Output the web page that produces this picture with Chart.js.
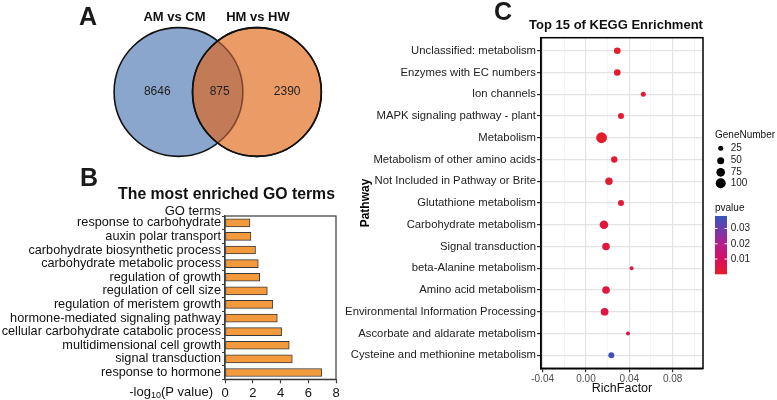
<!DOCTYPE html>
<html>
<head>
<meta charset="utf-8">
<script src="https://cdn.jsdelivr.net/npm/chart.js@4.4.1/dist/chart.umd.min.js"></script>
<style>
	body { margin: 0; background: #fff; }
	#page { position: relative; width: 777px; height: 400px; overflow: hidden; }
	canvas { position: absolute; }
</style>
</head>
<body>
<div id="page">
	<canvas id="venn" width="360" height="160" style="left:0;top:0"></canvas>
	<canvas id="go" width="360" height="240" style="left:0;top:160px"></canvas>
	<canvas id="kegg" width="437" height="400" style="left:340px;top:0"></canvas>
</div>
<script>
// A : Venn
const vennSets = ['AM vs CM', 'HM vs HW'];
const vennCounts = [8646, 875, 2390];      // only left, both, only right
const vennCenters = [-0.61, 0.61];        // circle centres (radius = 1 unit)
const vennLabelPos = [-0.94, 0.03, 1.08]; // where the counts sit

// B : GO terms
const goTerms = [
	'response to carbohydrate',
	'auxin polar transport',
	'carbohydrate biosynthetic process',
	'carbohydrate metabolic process',
	'regulation of growth',
	'regulation of cell size',
	'regulation of meristem growth',
	'hormone-mediated signaling pathway',
	'cellular carbohydrate catabolic process',
	'multidimensional cell growth',
	'signal transduction',
	'response to hormone'
];
const goLogP = [1.8, 1.87, 2.2, 2.4, 2.5, 3.05, 3.45, 3.77, 4.08, 4.63, 4.85, 6.98];
const goTicks = [0, 2, 4, 6, 8];

// C : KEGG
const pathways = [
	'Unclassified: metabolism',
	'Enzymes with EC numbers',
	'Ion channels',
	'MAPK signaling pathway - plant',
	'Metabolism',
	'Metabolism of other amino acids',
	'Not Included in Pathway or Brite',
	'Glutathione metabolism',
	'Carbohydrate metabolism',
	'Signal transduction',
	'beta-Alanine metabolism',
	'Amino acid metabolism',
	'Environmental Information Processing',
	'Ascorbate and aldarate metabolism',
	'Cysteine and methionine metabolism'
];
const richFactor = [0.0289, 0.0289, 0.0529, 0.0323, 0.0144, 0.0261, 0.0212, 0.0323, 0.0166, 0.0185, 0.0421, 0.0185, 0.0172, 0.0388, 0.0234];
const geneNumber = [44, 44, 25, 36, 117, 41, 55, 36, 74, 58, 16, 58, 60, 16, 36];
const pValue = [0.0008, 0.001, 0.0015, 0.0015, 0.0005, 0.002, 0.002, 0.002, 0.004, 0.0045, 0.005, 0.0045, 0.005, 0.006, 0.037];
const richTicks = [-0.04, -0.02, 0, 0.02, 0.04, 0.06, 0.08, 0.10];
const richTickLabels = ['-0.04', '', '0.00', '', '0.04', '', '0.08', ''];
const sizeBreaks = [25, 50, 75, 100];
const pBreaks = [0.01, 0.02, 0.03];
const pMax = 0.0382;

const FONT = 'Liberation Sans, Arial, Helvetica, sans-serif';
Chart.defaults.font.family = FONT;

function dotRadius(n)
{
	return 0.5 * Math.sqrt(n);
}

// red -> magenta -> blue like the pvalue colour bar
const pStops = [
	[0.00, [228, 30, 40]],
	[0.26, [215, 15, 95]],
	[0.52, [180, 30, 140]],
	[0.78, [110, 60, 175]],
	[1.00, [55, 85, 185]]
];
function pColor(p)
{
	const t = Math.max(0, Math.min(1, p / pMax));
	for (let i = 1; i < pStops.length; i++)
	{
		if (t <= pStops[i][0])
		{
			const [t0, c0] = pStops[i - 1];
			const [t1, c1] = pStops[i];
			const k = (t - t0) / (t1 - t0);
			const c = c0.map((v, j) => Math.round(v + (c1[j] - v) * k));
			return `rgb(${c[0]},${c[1]},${c[2]})`;
		}
	}
	return 'rgb(55,85,185)';
}

function text(ctx, str, x, y, font, align, color)
{
	ctx.font = font;
	ctx.textAlign = align || 'left';
	ctx.textBaseline = 'middle';
	ctx.fillStyle = color || '#000';
	ctx.fillText(str, x, y);
}

/* ---------- A ---------- */
const vennPlugin = {
	id: 'vennOverlap',
	afterDatasetsDraw(chart)
	{
		const ctx = chart.ctx;
		const [a, b] = chart.getDatasetMeta(0).data;
		const ra = a.options.radius, rb = b.options.radius;
		// darker lens where the two sets overlap
		ctx.save();
		ctx.beginPath(); ctx.arc(a.x, a.y, ra, 0, 2 * Math.PI); ctx.clip();
		ctx.beginPath(); ctx.arc(b.x, b.y, rb, 0, 2 * Math.PI);
		ctx.fillStyle = 'rgba(120,60,60,0.35)';
		ctx.fill();
		ctx.restore();

		ctx.save();
		ctx.beginPath(); ctx.arc(b.x, b.y, rb, 0, 2 * Math.PI); ctx.clip();
		ctx.beginPath(); ctx.arc(a.x, a.y, ra, 0, 2 * Math.PI);
		ctx.strokeStyle = 'rgba(70,25,15,0.6)';
		ctx.lineWidth = 1.6;
		ctx.stroke();
		ctx.restore();

		ctx.beginPath(); ctx.arc(b.x, b.y, rb, 0, 2 * Math.PI);
		ctx.strokeStyle = '#111';
		ctx.lineWidth = 1.6;
		ctx.stroke();

		const xs = chart.scales.x, ys = chart.scales.y;
		vennCounts.forEach((n, i) =>
			text(ctx, String(n), xs.getPixelForValue(vennLabelPos[i]), ys.getPixelForValue(0), '12px ' + FONT, 'center', '#222'));
		[a, b].forEach((p, i) =>
			text(ctx, vennSets[i], p.x + (i ? 1 : -4), p.y - p.options.radius - 10, 'bold 13px ' + FONT, 'center', '#111'));
		text(ctx, 'A', 88, 18, 'bold 25px ' + FONT, 'center', '#1a1a1a');
	}
};

new Chart(document.getElementById('venn'), {
	type: 'bubble',
	data: {
		datasets: [{
			data: vennCenters.map(x => ({ x: x, y: 0 })),
			backgroundColor: ['#8aa6cc', '#eb9c66'],
			borderColor: '#111',
			borderWidth: 1.6,
			radius: 64.4,
			clip: false
		}]
	},
	options: {
		responsive: false,
		animation: false,
		events: [],
		layout: { padding: 0, autoPadding: false },
		scales: {
			x: { display: false, min: -3.386, max: 2.213 },
			y: { display: false, min: -1.0575, max: 1.431 }
		},
		plugins: { legend: { display: false }, tooltip: { enabled: false } }
	},
	plugins: [vennPlugin]
});

/* ---------- B ---------- */
const goPlugin = {
	id: 'goExtras',
	afterDraw(chart)
	{
		const ctx = chart.ctx, area = chart.chartArea;
		ctx.save();
		ctx.strokeStyle = '#3a3a3a';
		ctx.lineWidth = 1.2;
		ctx.strokeRect(area.left, area.top, area.right - area.left, area.bottom - area.top);

		text(ctx, 'B', 89, 19, 'bold 25px ' + FONT, 'center', '#1a1a1a');
		text(ctx, 'The most enriched GO terms', 226.5, 35, 'bold 15.8px ' + FONT, 'center', '#111');
		text(ctx, 'GO terms', 221, 51.7, '13px ' + FONT, 'right', '#111');

		// -log10(P value) with subscript
		ctx.font = '13px ' + FONT;
		const w1 = ctx.measureText('-log').width, w3 = ctx.measureText('(P value)').width;
		ctx.font = '9px ' + FONT;
		const w2 = ctx.measureText('10').width;
		let x = 213 - (w1 + w2 + w3);
		text(ctx, '-log', x, 232, '13px ' + FONT, 'left', '#111');
		text(ctx, '10', x + w1, 236, '9px ' + FONT, 'left', '#111');
		text(ctx, '(P value)', x + w1 + w2, 232, '13px ' + FONT, 'left', '#111');
		ctx.restore();
	}
};

new Chart(document.getElementById('go'), {
	type: 'bar',
	data: {
		labels: goTerms,
		datasets: [{
			data: goLogP,
			backgroundColor: '#f29a3c',
			borderColor: '#3a3a3a',
			borderWidth: 1,
			borderSkipped: false,
			barThickness: 8
		}]
	},
	options: {
		indexAxis: 'y',
		responsive: false,
		animation: false,
		events: [],
		layout: { padding: { top: 56, right: 24, bottom: 0, left: 0 } },
		scales: {
			x: {
				min: 0, max: 8,
				afterBuildTicks: s => { s.ticks = goTicks.map(v => ({ value: v })); },
				afterFit: s => { s.height = 20.7; },
				grid: { drawOnChartArea: false, tickLength: 4, tickColor: '#3a3a3a', tickWidth: 1.2 },
				border: { color: '#3a3a3a', width: 1.2 },
				ticks: { font: { size: 13 }, color: '#111', padding: 2, maxRotation: 0 }
			},
			y: {
				afterFit: s => { s.width = 225; },
				grid: { drawOnChartArea: false, tickLength: 3, tickColor: '#3a3a3a', tickWidth: 1.2 },
				border: { color: '#3a3a3a', width: 1.2 },
				ticks: { font: { size: 12.7 }, color: '#111', padding: 1, autoSkip: false }
			}
		},
		plugins: { legend: { display: false }, tooltip: { enabled: false } }
	},
	plugins: [goPlugin]
});

/* ---------- C ---------- */
const keggPlugin = {
	id: 'keggExtras',
	afterDraw(chart)
	{
		const ctx = chart.ctx, area = chart.chartArea;
		ctx.save();
		ctx.strokeStyle = '#000';
		ctx.lineWidth = 1.5;
		ctx.strokeRect(area.left, area.top, area.right - area.left, area.bottom - area.top);

		text(ctx, 'C', 163, 13, 'bold 25px ' + FONT, 'center', '#1a1a1a');
		text(ctx, 'Top 15 of KEGG Enrichment', 276, 25, 'bold 13px ' + FONT, 'center', '#111');

		// size legend
		const lx = area.right + 12;
		text(ctx, 'GeneNumber', lx, 135, '10px ' + FONT, 'left', '#111');
		const rowY = [148.3, 160.7, 172.3, 183.3];
		sizeBreaks.forEach((n, i) =>
		{
			ctx.beginPath();
			ctx.arc(lx + 5.7, rowY[i], dotRadius(n), 0, 2 * Math.PI);
			ctx.fillStyle = '#000';
			ctx.fill();
			text(ctx, String(n), lx + 15.7, rowY[i], '10px ' + FONT, 'left', '#222');
		});

		// colour bar
		text(ctx, 'pvalue', lx, 208.3, '10px ' + FONT, 'left', '#111');
		const top = 216, bottom = 274.3, w = 12;
		const grad = ctx.createLinearGradient(0, bottom, 0, top);
		for (let k = 0; k <= 20; k++)
			grad.addColorStop(k / 20, pColor(pMax * k / 20));
		ctx.fillStyle = grad;
		ctx.fillRect(lx, top, w, bottom - top);
		pBreaks.forEach(p =>
		{
			const y = bottom - p / pMax * (bottom - top);
			ctx.strokeStyle = '#fff';
			ctx.lineWidth = 1;
			ctx.beginPath();
			ctx.moveTo(lx, y); ctx.lineTo(lx + 2.5, y);
			ctx.moveTo(lx + w - 2.5, y); ctx.lineTo(lx + w, y);
			ctx.stroke();
			text(ctx, p.toFixed(2), lx + 15.7, y, '10px ' + FONT, 'left', '#222');
		});
		ctx.restore();
	}
};

new Chart(document.getElementById('kegg'), {
	type: 'bubble',
	data: {
		datasets: [{
			data: pathways.map((p, i) => ({ x: richFactor[i], y: i, r: dotRadius(geneNumber[i]) })),
			backgroundColor: pValue.map(pColor),
			borderWidth: 0
		}]
	},
	options: {
		responsive: false,
		animation: false,
		events: [],
		layout: { padding: { top: 37.7, right: 74, bottom: 0, left: 0 }, autoPadding: false },
		scales: {
			x: {
				min: -0.0415, max: 0.108,
				afterBuildTicks: s => { s.ticks = richTicks.map(v => ({ value: v })); },
				afterFit: s => { s.height = 31.7; },
				grid: {
					color: c => richTickLabels[c.index] ? '#e4e4e4' : '#f1f1f1',
					lineWidth: c => richTickLabels[c.index] ? 1.2 : 0.8,
					tickColor: c => richTickLabels[c.index] ? '#333' : 'rgba(0,0,0,0)',
					tickLength: 4
				},
				border: { color: '#000', width: 1.5 },
				ticks: { callback: (v, i) => richTickLabels[i], font: { size: 10 }, color: '#4d4d4d', padding: 1, maxRotation: 0, autoSkip: false },
				title: { display: true, text: 'RichFactor', font: { size: 12.5 }, color: '#111', padding: { top: 0, bottom: 4 } }
			},
			y: {
				reverse: true,
				min: -0.6, max: 14.6,
				afterBuildTicks: s => { s.ticks = pathways.map((p, i) => ({ value: i })); },
				afterFit: s => { s.width = 201; },
				grid: { color: '#e4e4e4', lineWidth: 1.2, tickColor: '#333', tickLength: 4 },
				border: { color: '#000', width: 1.5 },
				ticks: { callback: v => pathways[v], font: { size: 11.3 }, color: '#222', padding: 1, autoSkip: false },
				title: { display: true, text: 'Pathway', font: { size: 12, weight: 'bold' }, color: '#000', padding: { top: 18, bottom: 0 } }
			}
		},
		plugins: { legend: { display: false }, tooltip: { enabled: false } }
	},
	plugins: [keggPlugin]
});
</script>
</body>
</html>
